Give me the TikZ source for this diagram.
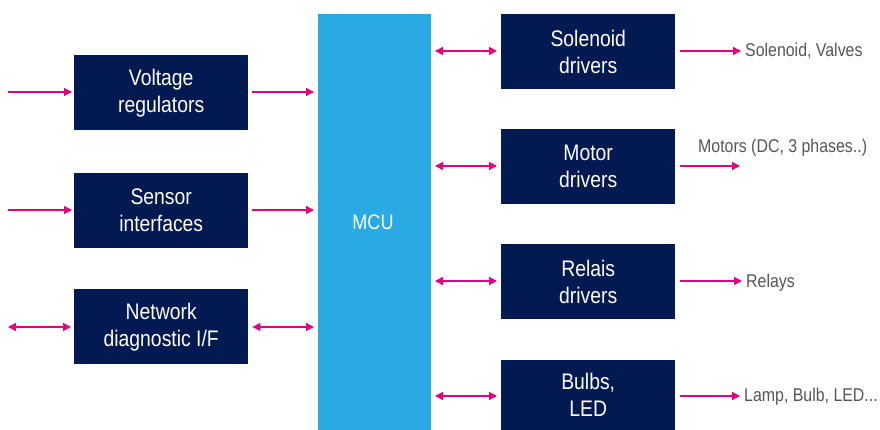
\documentclass[tikz,border=0pt]{standalone}
\usepackage{fontspec}
\setmainfont{Liberation Sans}[FakeStretch=0.86]
\usetikzlibrary{arrows.meta}
\definecolor{navy}{RGB}{2,25,82}
\definecolor{mcublue}{RGB}{41,170,226}
\definecolor{pinkarrow}{RGB}{228,0,126}
\definecolor{labelgrey}{RGB}{85,85,85}
\tikzset{
  blk/.style={fill=navy, text=white, minimum width=174pt, minimum height=75pt, inner sep=0pt, align=center, font=\fontsize{22.5}{27}\selectfont, anchor=north west},
  con/.style={draw=pinkarrow, line width=1.4pt, -{Triangle[length=8pt,width=8pt]}},
  bicon/.style={draw=pinkarrow, line width=1.4pt, {Triangle[length=8pt,width=8pt]}-{Triangle[length=8pt,width=8pt]}},
  lbl/.style={text=labelgrey, font=\fontsize{18.5}{20}\selectfont, inner sep=0pt}
}
\begin{document}
\begin{tikzpicture}[x=1pt,y=-1pt]
\useasboundingbox (0,0) rectangle (880,430);
% MCU
\fill[mcublue] (318,14) rectangle (431,430);
\node[text=white, font=\fontsize{21}{24}\selectfont] (mcu) at (373,222) {MCU};
\coordinate (mcuL1) at (314,92);
\coordinate (mcuL2) at (314,210);
\coordinate (mcuL3) at (314,327);
\coordinate (mcuR1) at (435,51);
\coordinate (mcuR2) at (435,166);
\coordinate (mcuR3) at (435,281);
\coordinate (mcuR4) at (435,396);
% left blocks
\node[blk] (volt) at (74,55) {Voltage\\regulators};
\node[blk] (sens) at (74,173) {Sensor\\interfaces};
\node[blk] (net) at (74,289) {Network\\diagnostic I/F};
% right blocks
\node[blk] (sol) at (501,14) {Solenoid\\drivers};
\node[blk] (mot) at (501,129) {Motor\\drivers};
\node[blk] (rel) at (501,244) {Relais\\drivers};
\node[blk, minimum height=70pt] (bulb) at (501,360) {Bulbs,\\LED};
% free ends
\coordinate (inV) at (8,92);
\coordinate (inS) at (8,210);
\coordinate (inN) at (8,327);
% left connectors
\draw[con] (inV) -- ([xshift=-2pt]volt.west|-inV);
\draw[con] (inS) -- ([xshift=-2pt]sens.west|-inS);
\draw[bicon] (inN) -- ([xshift=-3pt]net.west|-inN);
\draw[con] ([xshift=4pt]volt.east|-inV) -- (mcuL1);
\draw[con] ([xshift=4pt]sens.east|-inS) -- (mcuL2);
\draw[bicon] ([xshift=4pt]net.east|-inN) -- (mcuL3);
% right connectors
\draw[bicon] (mcuR1) -- ([xshift=-4pt]sol.west|-mcuR1);
\draw[bicon] (mcuR2) -- ([xshift=-4pt]mot.west|-mcuR2);
\draw[bicon] (mcuR3) -- ([xshift=-4pt]rel.west|-mcuR3);
\draw[bicon] (mcuR4) -- ([xshift=-4pt]bulb.west|-mcuR4);
% outputs
\node[lbl, anchor=west] (o1) at (745,51) {Solenoid, Valves};
\node[lbl, anchor=west] (o2) at (698,148) {Motors (DC, 3 phases..)};
\node[lbl, anchor=west] (o3) at (746,283) {Relays};
\node[lbl, anchor=west] (o4) at (744,397) {Lamp, Bulb, LED...};
\coordinate (e2) at (740,166);
\draw[con] ([xshift=5pt]sol.east|-mcuR1) -- ([xshift=-4pt]o1.west);
\draw[con] ([xshift=5pt]mot.east|-mcuR2) -- (e2);
\draw[con] ([xshift=5pt]rel.east|-mcuR3) -- ([xshift=-4pt]o3.west|-mcuR3);
\draw[con] ([xshift=5pt]bulb.east|-mcuR4) -- ([xshift=-4pt]o4.west|-mcuR4);
\end{tikzpicture}
\end{document}
